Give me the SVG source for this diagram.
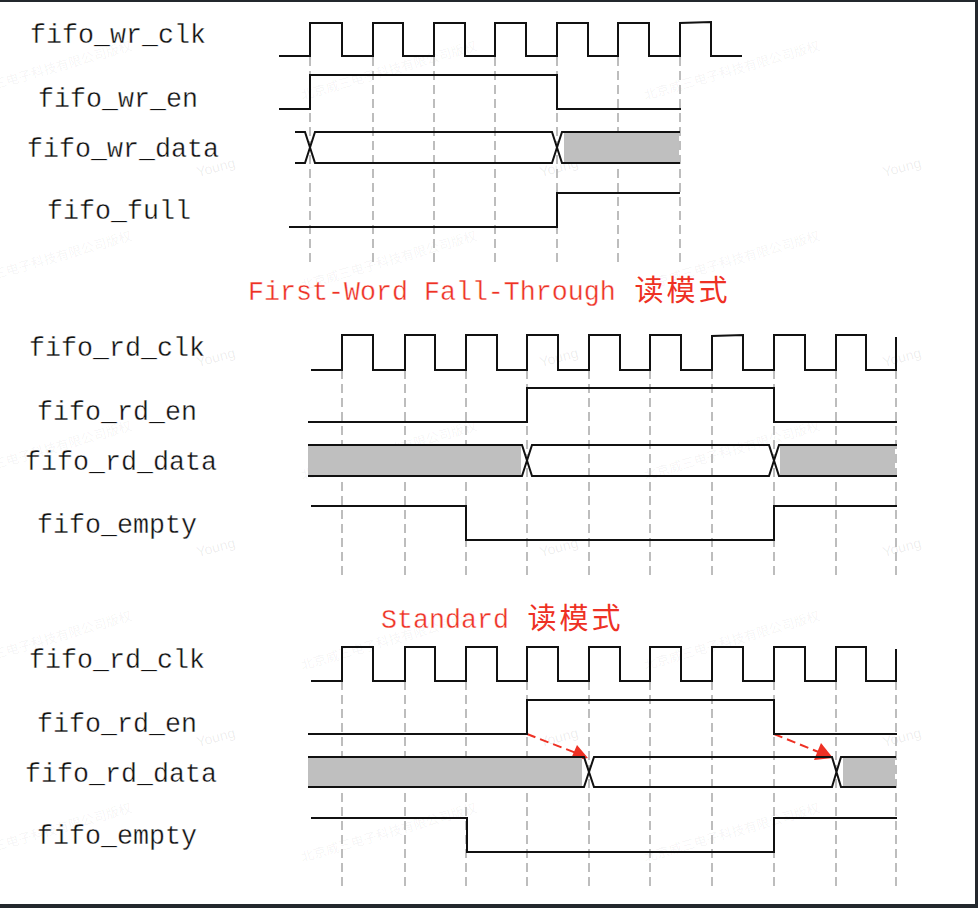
<svg xmlns="http://www.w3.org/2000/svg" width="978" height="908" viewBox="0 0 978 908">
<style>
.lb{font-family:"Liberation Mono",monospace;font-size:28px;fill:#111;stroke:#fff;stroke-width:.35}
.ti{font-family:"Liberation Mono",monospace;font-size:28px;fill:#ee3124;stroke:#fff;stroke-width:.35}
.cj{font-family:"Noto Sans CJK SC",sans-serif;font-size:29px;fill:#ee3124;text-anchor:middle}
.w{fill:none;stroke:#111;stroke-width:2}
.g{fill:none;stroke:#bdbdbd;stroke-width:2;stroke-dasharray:9 5}
.d{fill:#bfbfbf}
.r{fill:none;stroke:#ee3124;stroke-width:2;stroke-dasharray:9 5}
.h{fill:#ee3124}
.m{font-family:"Noto Sans CJK SC",sans-serif;font-size:13px;fill:#000;fill-opacity:.05}
.y{font-family:"Liberation Sans",sans-serif;font-size:14px;fill:#000;fill-opacity:.08}
</style>
<defs>
<g id="mark"><text class="m" transform="rotate(-16)" text-anchor="middle">北京威三电子科技有限公司版权</text></g>
<g id="yng"><text class="y" transform="rotate(-15)" text-anchor="middle">Young</text></g>
</defs>
<rect width="978" height="908" fill="#fff"/>
<g id="watermarks">
<use href="#mark" x="45" y="75"/><use href="#mark" x="390" y="75"/><use href="#mark" x="733" y="75"/>
<use href="#mark" x="45" y="265"/><use href="#mark" x="390" y="265"/><use href="#mark" x="733" y="265"/>
<use href="#mark" x="45" y="455"/><use href="#mark" x="390" y="455"/><use href="#mark" x="733" y="455"/>
<use href="#mark" x="45" y="645"/><use href="#mark" x="390" y="645"/><use href="#mark" x="733" y="645"/>
<use href="#mark" x="45" y="837"/><use href="#mark" x="390" y="837"/><use href="#mark" x="733" y="837"/>
<use href="#yng" x="217" y="172"/><use href="#yng" x="560" y="172"/><use href="#yng" x="903" y="172"/>
<use href="#yng" x="217" y="362"/><use href="#yng" x="560" y="362"/><use href="#yng" x="903" y="362"/>
<use href="#yng" x="217" y="552"/><use href="#yng" x="560" y="552"/><use href="#yng" x="903" y="552"/>
<use href="#yng" x="217" y="742"/><use href="#yng" x="560" y="742"/><use href="#yng" x="903" y="742"/>
</g>
<g id="connectors">
<path class="g" d="M310 57V265M373 57V265M434 57V265M495 57V265M557 57V265M618 57V265M680 57V265"/>
<path class="g" d="M342 370V578M405 370V578M466 370V578M527 370V578M589 370V578M650 370V578M712 370V578M774 370V578M836 370V578M896 370V578"/>
<path class="g" d="M342 681V889M405 681V889M466 681V889M527 681V889M589 681V889M650 681V889M712 681V889M774 681V889M836 681V889M896 681V889"/>
<path class="r" d="M527 734L576 753"/>
<path class="h" d="M588 758L570 761L577 745Z"/>
<path class="r" d="M774 734L821 753"/>
<path class="h" d="M833 758L814 760L821 743Z"/>
</g>
<g id="write-section">
<g id="fifo_wr_clk"><text class="lb" transform="translate(30 43) scale(.952 1)">fifo_wr_clk</text><path class="w" d="M279 56H310V23H342V56H373V23H403V56H434V23H465V56H495V23H526V56H557V23H588V56H618V23H649V56H680V23L711 22V56H742"/></g>
<g id="fifo_wr_en"><text class="lb" transform="translate(38 107) scale(.952 1)">fifo_wr_en</text><path class="w" d="M279 109H310V75H557V109H681"/></g>
<g id="fifo_wr_data"><text class="lb" transform="translate(27 157) scale(.952 1)">fifo_wr_data</text><rect class="d" x="564" y="132" width="115" height="31"/><path class="w" d="M295 132H305L315 163H326M295 163H305L315 132H326M315 132H552L562 163H680M315 163H552L562 132H680"/></g>
<g id="fifo_full"><text class="lb" transform="translate(47 219) scale(.952 1)">fifo_full</text><path class="w" d="M289 227H557V193H680"/></g>
</g>
<g id="title-fwft"><text class="ti" transform="translate(248 300) scale(.952 1)">First-Word Fall-Through</text><text class="cj" x="649" y="301">读</text><text class="cj" x="681" y="301">模</text><text class="cj" x="713" y="301">式</text></g>
<g id="fwft-section">
<g id="fifo_rd_clk_1"><text class="lb" transform="translate(29 356) scale(.952 1)">fifo_rd_clk</text><path class="w" d="M311 370H342V335H373V370H405V335H435V370H466V335H497V370H527V335H558V370H589V335H620V370H650V335H681V370H712V336L743 335V370H774V335H805V370H836V335H866V370H896V337"/></g>
<g id="fifo_rd_en_1"><text class="lb" transform="translate(37 420) scale(.952 1)">fifo_rd_en</text><path class="w" d="M308 422H527V388H774V422H897"/></g>
<g id="fifo_rd_data_1"><text class="lb" transform="translate(25 470) scale(.952 1)">fifo_rd_data</text><rect class="d" x="308" y="445" width="213" height="31"/><rect class="d" x="780" y="445" width="115" height="31"/><path class="w" d="M308 445H522L532 476H769L779 445H897M308 476H522L532 445H769L779 476H897"/></g>
<g id="fifo_empty_1"><text class="lb" transform="translate(37 533) scale(.952 1)">fifo_empty</text><path class="w" d="M311 506H466V540H774V506H897"/></g>
</g>
<g id="title-std"><text class="ti" transform="translate(381 628) scale(.952 1)">Standard</text><text class="cj" x="542" y="629">读</text><text class="cj" x="574" y="629">模</text><text class="cj" x="606" y="629">式</text></g>
<g id="standard-section">
<g id="fifo_rd_clk_2"><text class="lb" transform="translate(29 668) scale(.952 1)">fifo_rd_clk</text><path class="w" d="M311 681H342V647H373V681H405V647H435V681H466V647H497V681H527V647H558V681H589V647H620V681H650V647H681V681H712V647H743V681H774V647H805V681H836V647H866V681H896V649"/></g>
<g id="fifo_rd_en_2"><text class="lb" transform="translate(37 732) scale(.952 1)">fifo_rd_en</text><path class="w" d="M308 734H527V700H774V734H897"/></g>
<g id="fifo_rd_data_2"><text class="lb" transform="translate(25 782) scale(.952 1)">fifo_rd_data</text><rect class="d" x="308" y="757" width="274" height="30"/><rect class="d" x="843" y="757" width="52" height="30"/><path class="w" d="M308 757H584L594 787H832L841 757H896M308 787H584L594 757H832L841 787H896"/></g>
<g id="fifo_empty_2"><text class="lb" transform="translate(37 844) scale(.952 1)">fifo_empty</text><path class="w" d="M311 818H467V852H774V818H897"/></g>
</g>
<g id="frame"><rect x="0" y="0" width="978" height="2" fill="#23282d"/><rect x="975" y="0" width="3" height="908" fill="#23282d"/><rect x="0" y="904" width="978" height="4" fill="#23282d"/></g>
</svg>
